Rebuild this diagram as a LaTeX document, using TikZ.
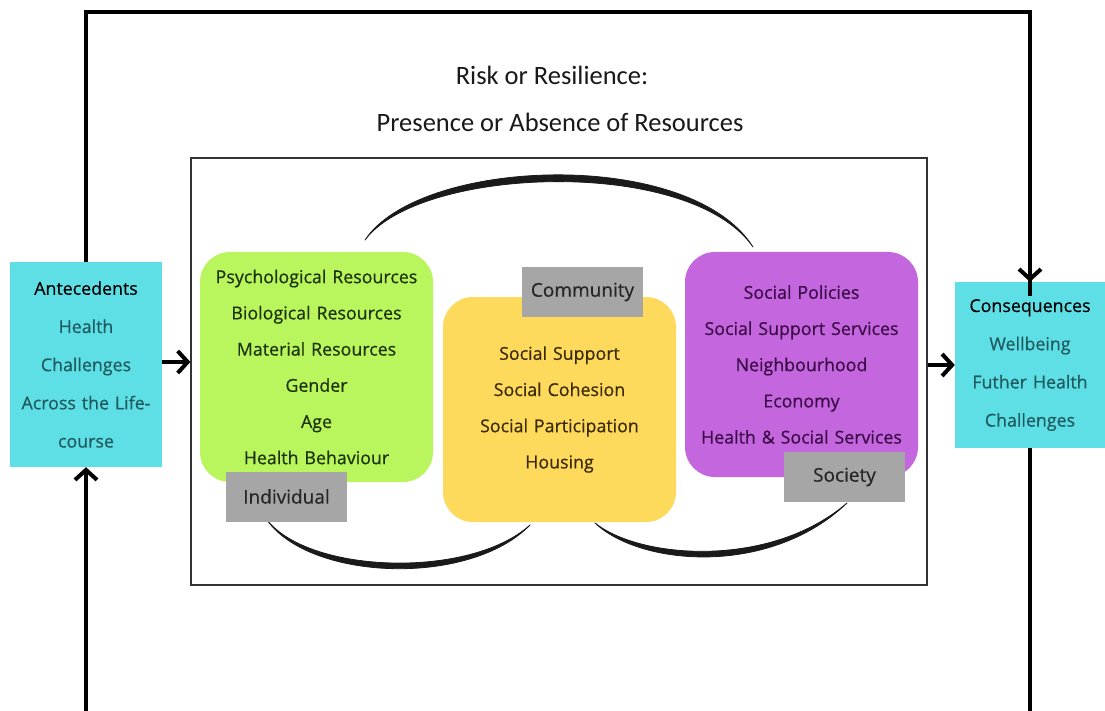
\documentclass[tikz,border=0pt]{standalone}
\usepackage{fontspec}
\setmainfont{Open Sans}
\newfontfamily\titlefont{Carlito}
\newfontfamily\boxfont{Open Sans}[FakeBold=0.5]
\usetikzlibrary{arrows.meta}

\definecolor{cyanbox}{HTML}{5EDFE6}
\definecolor{greenbox}{HTML}{B9F55C}
\definecolor{yellowbox}{HTML}{FDD95C}
\definecolor{purplebox}{HTML}{C466DE}
\definecolor{greylabel}{HTML}{A6A6A6}
\definecolor{tealtext}{HTML}{1F5A5E}
\definecolor{greentext}{HTML}{1C3208}
\definecolor{yellowtext}{HTML}{3A2A06}
\definecolor{purpletext}{HTML}{3A0B47}
\definecolor{brush}{HTML}{1A1A1A}

\tikzset{
  loopline/.style={line width=4.2pt, black},
  arrowline/.style={line width=4pt, black, -{Straight Barb[length=10pt,width=22pt,line width=4pt]}},
  endbox/.style={fill=cyanbox, inner sep=0pt, align=center, text=tealtext,
    font=\boxfont\fontsize{17.8}{38.2}\selectfont},
  resbox/.style={rounded corners=30pt, inner sep=0pt, align=center,
    font=\boxfont\fontsize{17.8}{36.2}\selectfont},
  tag/.style={fill=greylabel, inner sep=0pt, minimum width=121pt, minimum height=50pt,
    font=\boxfont\fontsize{19}{22}\selectfont, text=black!85},
  brushstroke/.style={fill=brush, draw=brush, line width=0.8pt, line join=round},
  heading/.style={font=\titlefont\fontsize{26.5}{30}\selectfont, text=black!90},
}

\begin{document}
\begin{tikzpicture}[x=1pt, y=-1pt]
\useasboundingbox[fill=white] (0,0) rectangle (1105,711);

% headings
\node[heading] (h1) at (552,75) {Risk or Resilience:};
\node[heading] (h2) at (560,122) {Presence or Absence of Resources};

% frame around the three resource levels
\node[draw=black!80, line width=1.2pt, minimum width=736pt, minimum height=427pt,
      inner sep=0pt] (frame) at (559,371.5) {};

% brush-stroke arcs linking the levels
\path[brushstroke] (365,240) .. controls (420,157) and (690,147) .. (753,247)
   .. controls (690,156) and (420,166) .. (365,240) -- cycle;
\path[brushstroke] (267,520) .. controls (310,581) and (470,587) .. (530,525)
   .. controls (470,579) and (310,574) .. (267,520) -- cycle;
\path[brushstroke] (595,523) .. controls (640,566) and (770,577) .. (847,503)
   .. controls (770,569) and (640,559) .. (595,523) -- cycle;

% resource boxes
\node[resbox, fill=greenbox, text=greentext, minimum width=233pt, minimum height=230pt,
      text width=233pt] (indiv) at (316.5,367)
  {Psychological Resources\\Biological Resources\\Material Resources\\Gender\\Age\\Health Behaviour};
\node[resbox, fill=yellowbox, text=yellowtext, minimum width=233pt, minimum height=225pt,
      text width=233pt] (comm) at (559.5,409.5)
  {Social Support\\Social Cohesion\\Social Participation\\Housing};
\node[resbox, fill=purplebox, text=purpletext, minimum width=233pt, minimum height=225pt,
      text width=233pt] (soc) at (801.5,364.5)
  {Social Policies\\Social Support Services\\Neighbourhood\\Economy\\Health \& Social Services};

% level tags
\node[tag] (tagindiv) at (286.5,496.5) {Individual};
\node[tag] (tagcomm) at (582.5,292) {Community};
\node[tag] (tagsoc) at (844.5,477) {Society};

% antecedents and consequences
\node[endbox, minimum width=152pt, minimum height=205pt, text width=152pt] (ant) at (86,364.5)
  {\textcolor{black}{Antecedents}\\Health\\Challenges\\Across the Life-\\course};
\node[endbox, minimum width=150pt, minimum height=166pt, text width=150pt] (cons) at (1030,365)
  {\textcolor{black}{Consequences}\\Wellbeing\\Futher Health\\Challenges};

% outer feedback loop
\coordinate (tl) at (ant.north |- 0,12);
\coordinate (tr) at (cons.north |- 0,12);
\coordinate (bl) at (ant.south |- 0,715);
\coordinate (br) at (cons.south |- 0,715);
\draw[loopline, line join=miter] (ant.north) -- (tl) -- (tr) -- ([yshift=-14pt]cons.north);
\draw[arrowline] (tr) -- (cons.north);
\draw[arrowline] (bl) -- (ant.south);
\draw[loopline] (cons.south) -- (br);

% flow arrows through the frame
\draw[arrowline] ([yshift=2.5pt]ant.east) -- ([yshift=2.5pt]frame.west |- ant.east);
\draw[arrowline] (frame.east |- cons.west) -- (cons.west);
\end{tikzpicture}
\end{document}
